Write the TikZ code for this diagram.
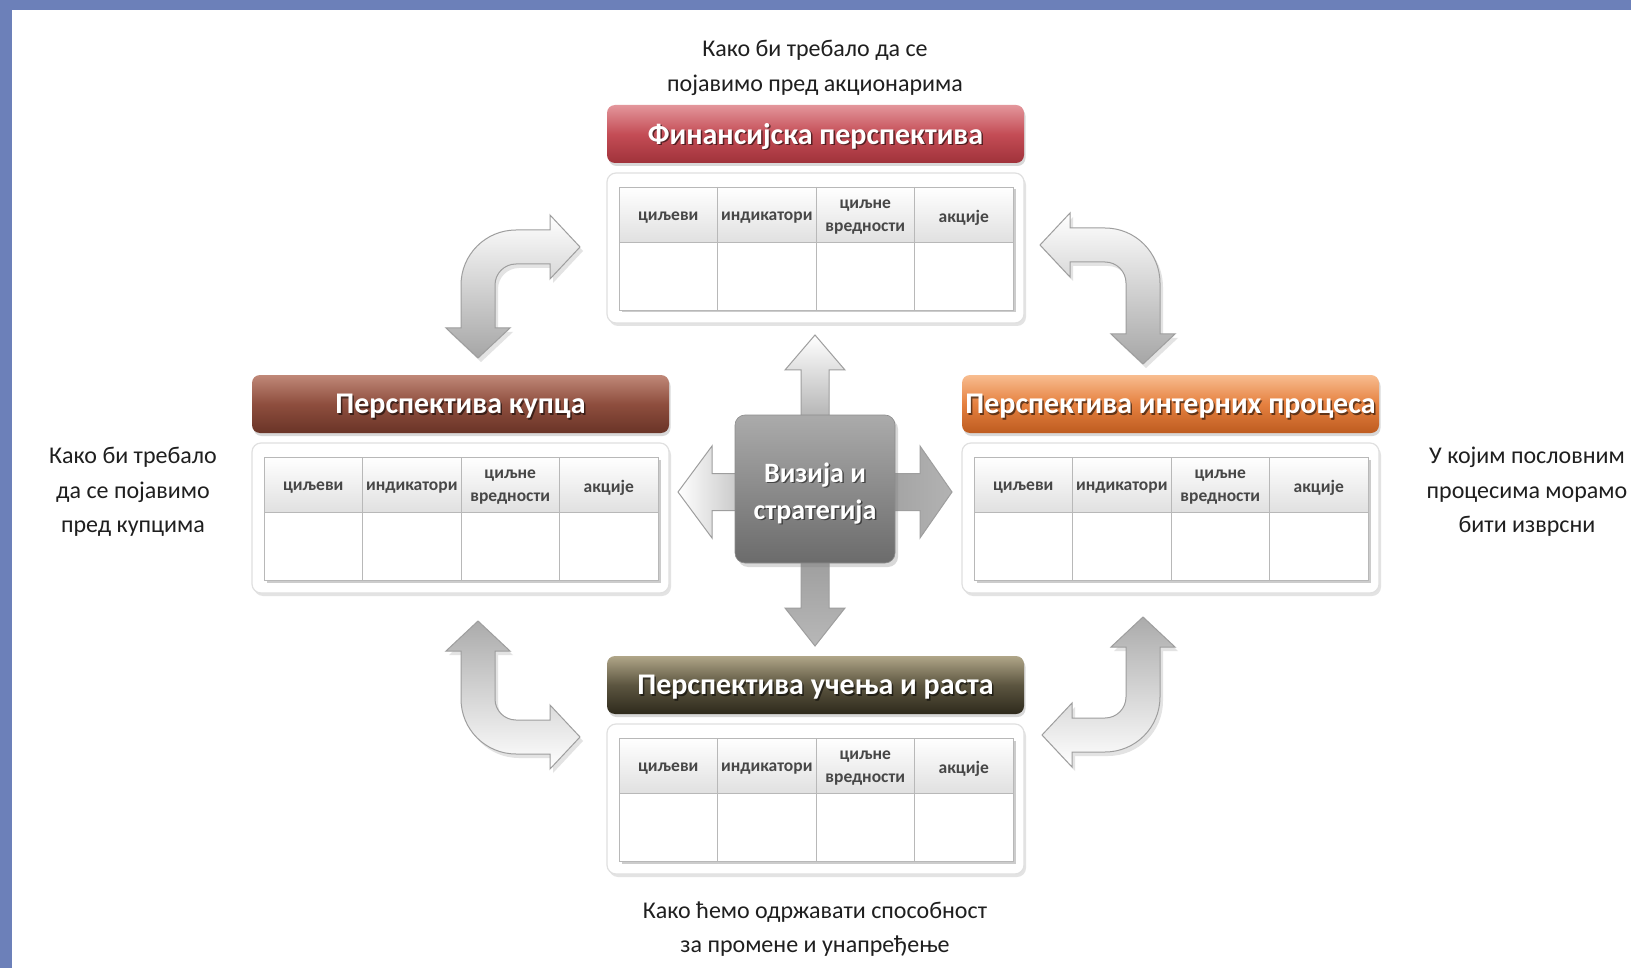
\documentclass[tikz,border=0pt]{standalone}
\usepackage{fontspec}
\setmainfont{Carlito}
\usetikzlibrary{shadows}
\definecolor{frameblue}{HTML}{6C80B9}
\definecolor{finT}{HTML}{E3969B}\definecolor{finM}{HTML}{C44D56}\definecolor{finB}{HTML}{A0323A}
\definecolor{cusT}{HTML}{C08878}\definecolor{cusM}{HTML}{8E4E3E}\definecolor{cusB}{HTML}{6A3427}
\definecolor{intT}{HTML}{F8BD90}\definecolor{intM}{HTML}{E5803F}\definecolor{intB}{HTML}{BE5C20}
\definecolor{lrnT}{HTML}{B0A688}\definecolor{lrnM}{HTML}{5C5540}\definecolor{lrnB}{HTML}{2E2A1C}
\tikzset{
 hdrbox/.style={minimum width=417pt,minimum height=58pt,rounded corners=8pt,inner sep=0pt,drop shadow={opacity=.3,shadow xshift=1.5pt,shadow yshift=-3pt}},
 hdrtext/.style={text=white,font=\fontsize{30}{36}\selectfont\bfseries,inner sep=0pt},
 hdrshad/.style={text=black,opacity=.55,font=\fontsize{30}{36}\selectfont\bfseries,inner sep=0pt},
 finhdr/.style={top color=finT,bottom color=finB,middle color=finM},
 cushdr/.style={top color=cusT,bottom color=cusB,middle color=cusM},
 inthdr/.style={top color=intT,bottom color=intB,middle color=intM},
 lrnhdr/.style={top color=lrnT,bottom color=lrnB,middle color=lrnM},
 outerbox/.style={fill=white,draw=black!12,line width=1.2pt,rounded corners=9pt,drop shadow={opacity=.22,shadow xshift=2pt,shadow yshift=-3pt}},
 tblbody/.style={fill=white,drop shadow={opacity=.4,shadow xshift=2.5pt,shadow yshift=-2.5pt}},
 tblline/.style={draw=black!28,line width=.8pt},
 tblhead/.style={top color=white,bottom color=black!12},
 cell/.style={text=black!72,font=\fontsize{17.5}{22.5}\selectfont\bfseries,align=center,inner sep=0pt},
 note/.style={text=black!88,font=\fontsize{24}{34.5}\selectfont,align=center,inner sep=0pt},
 bent/.style={draw=black!38,line width=1pt,drop shadow={opacity=.22,shadow xshift=3pt,shadow yshift=-4pt}},
 crossarrow/.style={draw=black!38,line width=1pt},
 centerbox/.style={minimum width=160pt,minimum height=148pt,rounded corners=10pt,top color=black!33,bottom color=black!58,draw=black!45,line width=.6pt,drop shadow={opacity=.3,shadow xshift=3pt,shadow yshift=-4pt}},
 ctext/.style={text=white,font=\fontsize{28}{37}\selectfont\bfseries,align=center,inner sep=0pt},
 cshad/.style={text=black,opacity=.5,font=\fontsize{28}{37}\selectfont\bfseries,align=center,inner sep=0pt},
}
\newcommand\persp[5]{%
 \node[hdrbox,#5] (#1) at ({#2+208.5},{#3+29}) {};
 \node[hdrshad] (#1-ts) at ({#2+210},{#3+33}) {#4};
 \node[hdrtext] (#1-t) at ({#2+208.5},{#3+31.5}) {#4};
 \path[outerbox] ({#2},{#3+68}) rectangle ({#2+417},{#3+218});
 \path[tblbody] ({#2+12},{#3+82}) rectangle ({#2+406},{#3+205});
 \shade[tblhead] ({#2+12},{#3+82}) rectangle ({#2+406},{#3+137});
 \draw[tblline] ({#2+12},{#3+82}) rectangle ({#2+406},{#3+205});
 \draw[tblline] ({#2+12},{#3+137}) -- ({#2+406},{#3+137});
 \foreach \i in {1,2,3} {\draw[tblline] ({#2+12+98.5*\i},{#3+82}) -- ({#2+12+98.5*\i},{#3+205});}
 \node[cell] (#1-c1) at ({#2+61.25},{#3+113}) {циљеви};
 \node[cell] (#1-c2) at ({#2+159.75},{#3+113}) {индикатори};
 \node[cell] (#1-c3) at ({#2+258.25},{#3+112}) {циљне\\вредности};
 \node[cell] (#1-c4) at ({#2+356.75},{#3+113}) {акције};
}
\newcommand\bentarrow[7]{%
 \begin{scope}[shift={(#1,#2)},x={({(#3)*1pt},0pt)},y={(0pt,{-(#4)*1pt})}]
 \path[bent,#7] (#5,0) -- ({#5-30},-32) -- ({#5-30},-17) -- (38,-17)
   .. controls (7.6,-17) and (-17,7.6) .. (-17,38) -- (-17,{#6-30}) -- (-32,{#6-30})
   -- (0,#6) -- (32,{#6-30}) -- (17,{#6-30}) -- (17,38)
   .. controls (17,26.4) and (26.4,17) .. (38,17) -- ({#5-30},17) -- ({#5-30},32) -- cycle;
 \end{scope}}
\begin{document}
\begin{tikzpicture}[x=1pt,y=-1pt]
\useasboundingbox (0,0) rectangle (1631,968);
\fill[white] (0,0) rectangle (1631,968);
\fill[frameblue] (0,0) rectangle (1631,10);
\fill[frameblue] (0,0) rectangle (12,968);

% bent arrows
\bentarrow{478}{247}{1}{1}{102}{111}{top color=white,bottom color=black!35}
\bentarrow{1143}{245}{-1}{1}{103}{119}{top color=white,bottom color=black!35}
\bentarrow{478}{737}{1}{-1}{102}{116}{top color=black!33,bottom color=white}
\bentarrow{1143}{735}{-1}{-1}{101}{118}{top color=black!33,bottom color=white}

% perspectives
\persp{fin}{607}{105}{Финансијска перспектива}{finhdr}
\persp{cus}{252}{375}{Перспектива купца}{cushdr}
\persp{int}{962}{375}{Перспектива интерних процеса}{inthdr}
\persp{lrn}{607}{656}{Перспектива учења и раста}{lrnhdr}

% cross arrows
\path[crossarrow,top color=white,bottom color=black!30] (815,335) -- (845,370) -- (829,370) -- (829,420) -- (801,420) -- (801,370) -- (785,370) -- cycle;
\path[crossarrow,top color=black!38,bottom color=black!28] (815,646) -- (845,608) -- (829,608) -- (829,558) -- (801,558) -- (801,608) -- (785,608) -- cycle;
\path[crossarrow,left color=black!36,right color=black!30] (952,492) -- (920,446) -- (920,473.5) -- (890,473.5) -- (890,510.5) -- (920,510.5) -- (920,538) -- cycle;
\path[crossarrow,left color=white,right color=black!22] (678,492) -- (712,446) -- (712,473.5) -- (740,473.5) -- (740,510.5) -- (712,510.5) -- (712,538) -- cycle;

% center
\node[centerbox] (vis) at (815,489) {};
\node[cshad] (vis-s) at (816.5,495) {Визија и\\стратегија};
\node[ctext] (vis-t) at (815,493.5) {Визија и\\стратегија};

% notes
\node[note] (nfin) at (815,68) {Како би требало да се\\појавимо пред акционарима};
\node[note] (ncus) at (133,492) {Како би требало\\да се појавимо\\пред купцима};
\node[note] (nint) at (1527,492) {У којим пословним\\процесима морамо\\бити изврсни};
\node[note] (nlrn) at (815,929) {Како ћемо одржавати способност\\за промене и унапређење};
\end{tikzpicture}
\end{document}
